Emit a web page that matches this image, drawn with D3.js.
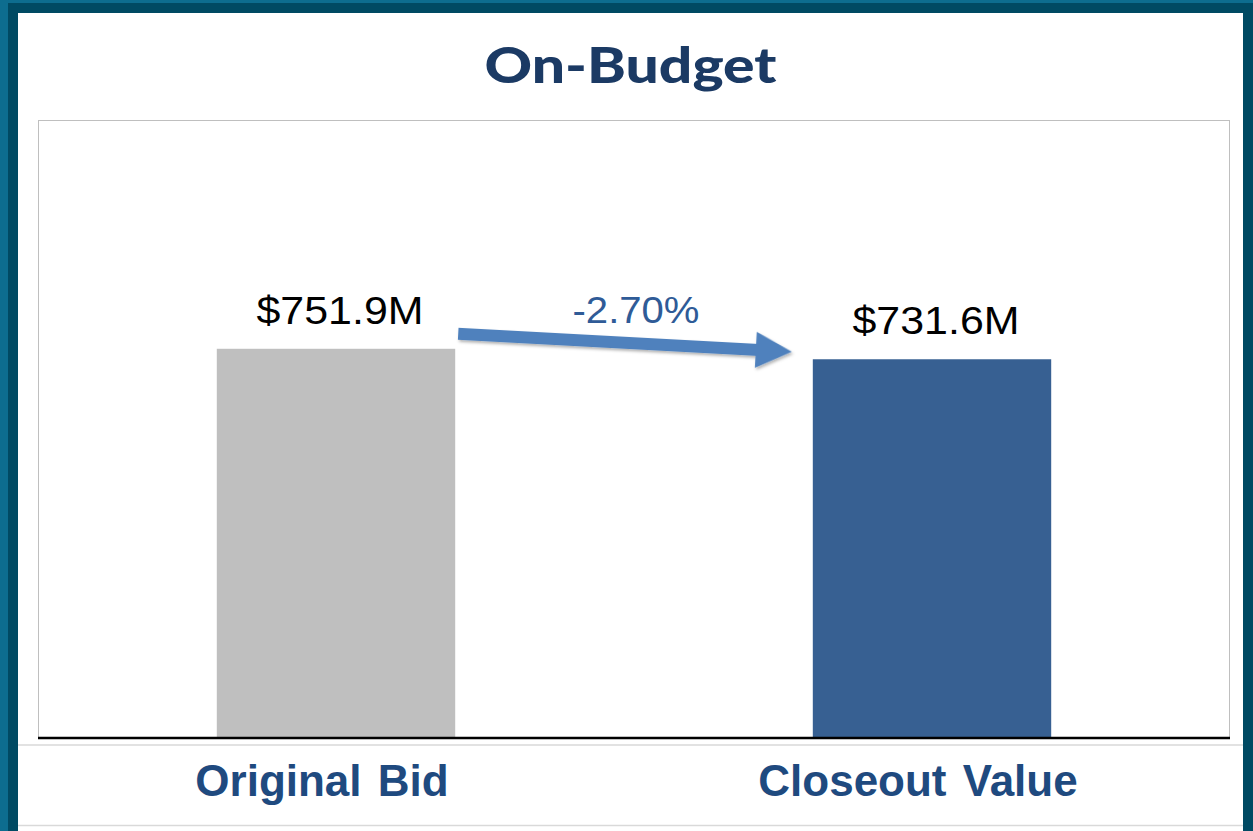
<!DOCTYPE html>
<html>
<head>
<meta charset="utf-8">
<script src="https://cdn.jsdelivr.net/npm/d3@7"></script>
<style>
    html, body { margin: 0; padding: 0; background: #0d6d8f; }
    svg { display: block; }
</style>
</head>
<body>
<div id="chart"></div>
<script>
const categories = ["Original Bid", "Closeout Value"];
const values = [751.9, 731.6];
const valueLabels = ["$751.9M", "$731.6M"];
const changeLabel = "-2.70%";
const yMax = 1195;

const barColors = ["#bfbfbf", "#376092"];

const width = 1253;
const height = 831;
const plot = { left: 38, top: 120, right: 1230, bottom: 737 };

const svg = d3.select("#chart").append("svg")
    .attr("width", width)
    .attr("height", height);

const defs = svg.append("defs");
const shadow = defs.append("filter")
    .attr("id", "shadow")
    .attr("x", "-10%").attr("y", "-50%")
    .attr("width", "120%").attr("height", "200%");
shadow.append("feDropShadow")
    .attr("dx", 1.5).attr("dy", 2)
    .attr("stdDeviation", 1.5)
    .attr("flood-color", "#000")
    .attr("flood-opacity", 0.3);

// frame
svg.append("rect")
    .attr("width", width).attr("height", height)
    .attr("fill", "#0d6d8f");
svg.append("rect")
    .attr("x", 8).attr("y", 3)
    .attr("width", width - 8).attr("height", height - 3)
    .attr("fill", "#004a63");
svg.append("rect")
    .attr("x", 18).attr("y", 13)
    .attr("width", 1225).attr("height", height - 13)
    .attr("fill", "#fff");

svg.append("text")
    .attr("x", 630.5).attr("y", 83)
    .attr("text-anchor", "middle")
    .attr("font-family", "Lato, 'Open Sans', sans-serif")
    .attr("font-weight", 900)
    .attr("font-size", 50)
    .attr("textLength", 292)
    .attr("lengthAdjust", "spacingAndGlyphs")
    .attr("fill", "#1b3a64")
    .text("On-Budget");

let x = d3.scaleBand()
    .domain(categories)
    .range([plot.left, plot.right])
    .paddingInner(0.6)
    .paddingOuter(0.3);

let y = d3.scaleLinear()
    .domain([0, yMax])
    .range([plot.bottom, plot.top]);

svg.append("rect")
    .attr("x", plot.left + 0.5).attr("y", plot.top + 0.5)
    .attr("width", plot.right - plot.left - 1)
    .attr("height", plot.bottom - plot.top)
    .attr("fill", "none")
    .attr("stroke", "#bfbfbf");

const data = categories.map((c, i) => ({ name: c, value: values[i], label: valueLabels[i], color: barColors[i] }));

svg.append("g")
    .selectAll("rect")
    .data(data)
    .join("rect")
    .attr("x", d => x(d.name))
    .attr("y", d => y(d.value))
    .attr("width", x.bandwidth())
    .attr("height", d => y(0) - y(d.value))
    .attr("fill", d => d.color);

svg.append("g")
    .selectAll("text")
    .data(data)
    .join("text")
    .attr("x", d => x(d.name) + x.bandwidth() / 2 + 4)
    .attr("y", d => y(d.value) - 25)
    .attr("text-anchor", "middle")
    .attr("font-family", "'Liberation Sans', Arial, sans-serif")
    .attr("font-size", 38.5)
    .attr("textLength", 167)
    .attr("lengthAdjust", "spacingAndGlyphs")
    .attr("fill", "#000")
    .text(d => d.label);

// baseline + separators
svg.append("line")
    .attr("x1", plot.left).attr("x2", plot.right)
    .attr("y1", y(0) + 1).attr("y2", y(0) + 1)
    .attr("stroke", "#000")
    .attr("stroke-width", 2.5);

[745, 825.5].forEach(yy => {
    svg.append("line")
        .attr("x1", 18).attr("x2", 1243)
        .attr("y1", yy).attr("y2", yy)
        .attr("stroke", "#d9d9d9")
        .attr("stroke-width", 1.5);
});

svg.append("g")
    .selectAll("text")
    .data(data)
    .join("text")
    .attr("x", d => x(d.name) + x.bandwidth() / 2 - 14)
    .attr("y", 796)
    .attr("text-anchor", "middle")
    .attr("font-family", "'Liberation Sans', Arial, sans-serif")
    .attr("font-weight", 700)
    .attr("font-size", 44)
    .attr("word-spacing", 4)
    .attr("fill", "#1f4a7f")
    .text(d => d.name);

// change arrow
const start = [x(categories[0]) + x.bandwidth() + 3, y(values[0]) - 15];
const tip = [x(categories[1]) - 21, y(values[1]) - 7.5];
const len = Math.hypot(tip[0] - start[0], tip[1] - start[1]);
const angle = Math.atan2(tip[1] - start[1], tip[0] - start[0]) * 180 / Math.PI;
const headLen = 36, headHalf = 18, shaftHalf = 6;

svg.append("path")
    .attr("transform", `translate(${start[0]},${start[1]}) rotate(${angle})`)
    .attr("d", `M0,${-shaftHalf} L${len - headLen},${-shaftHalf} L${len - headLen},${-headHalf} L${len},0 L${len - headLen},${headHalf} L${len - headLen},${shaftHalf} L0,${shaftHalf} Z`)
    .attr("fill", "#4f81bd")
    .attr("filter", "url(#shadow)");

svg.append("text")
    .attr("x", (start[0] + tip[0]) / 2 + 11)
    .attr("y", (start[1] + tip[1]) / 2 - 20)
    .attr("text-anchor", "middle")
    .attr("font-family", "'Liberation Sans', Arial, sans-serif")
    .attr("font-size", 36)
    .attr("textLength", 127)
    .attr("lengthAdjust", "spacingAndGlyphs")
    .attr("fill", "#2f5b97")
    .text(changeLabel);
</script>
</body>
</html>
